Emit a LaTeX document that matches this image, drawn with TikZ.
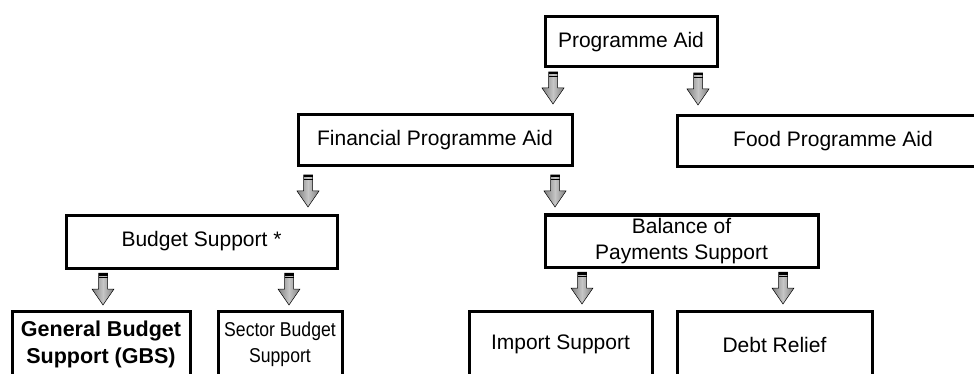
\documentclass[tikz,border=0pt]{standalone}
\usepackage{fontspec}
\setmainfont{Liberation Sans}
\newfontfamily\narrowsans[FakeStretch=0.88]{Liberation Sans}
\tikzset{
  box/.style={draw=black, line width=3pt, fill=white, align=center, inner sep=0pt,
    font=\fontsize{21}{26.5}\selectfont},
  blockarr/.pic={
    \path[draw=black, line width=0.5pt, left color=gray, right color=gray, middle color=gray!45]
      (-4.5,0) -- (4.5,0) -- (4.5,-16) -- (11,-16) -- (0,-32) -- (-11,-16) -- (-4.5,-16) -- cycle;
    \fill[black] (-4.5,0) rectangle (4.5,-2.5);
    \fill[black] (-4.5,-3.8) rectangle (4.5,-5);
  }
}
\begin{document}
\begin{tikzpicture}[x=1pt,y=1pt]
\useasboundingbox (0,0) rectangle (974,-374);
\clip (0,0) rectangle (974,-374);
% boxes
\node[box, minimum width=172pt, minimum height=50pt] (pa) at (631,-42) {Programme Aid};
\node[box, minimum width=274pt, minimum height=51pt] (fpa) at (435,-140.5) {Financial Programme Aid};
\node[box, minimum width=312pt, minimum height=51pt] (food) at (833,-141.5) {Food Programme Aid};
\node[box, minimum width=271pt, minimum height=53pt] (bs) at (201.5,-241.5) {Budget Support *};
\node[box, minimum width=273pt, minimum height=52pt] (bop) at (681.5,-241) {Balance of\\Payments Support};
\node[box, minimum width=178pt, minimum height=67pt, font=\fontsize{21.5}{26.5}\selectfont\bfseries] (gbs) at (101,-344.5) {General Budget\\Support (GBS)};
\node[box, minimum width=124pt, minimum height=67pt, font=\narrowsans\fontsize{20}{26.5}\selectfont] (sbs) at (280,-344.5) {Sector Budget\\Support};
\node[box, minimum width=183pt, minimum height=67pt] (imp) at (560.5,-344.5) {Import Support};
\node[box, minimum width=195pt, minimum height=67pt] (debt) at (774.5,-344.5) {Debt Relief};
% block arrows
\coordinate (a1) at (553,-72);
\coordinate (a2) at (698,-73);
\coordinate (a3) at (308,-175);
\coordinate (a4) at (555,-175);
\coordinate (a5) at (103,-273);
\coordinate (a6) at (289,-273);
\coordinate (a7) at (582,-272);
\coordinate (a8) at (783,-272);
\foreach \a in {a1,a2,a3,a4,a5,a6,a7,a8} { \pic at (\a) {blockarr}; }
\end{tikzpicture}
\end{document}
